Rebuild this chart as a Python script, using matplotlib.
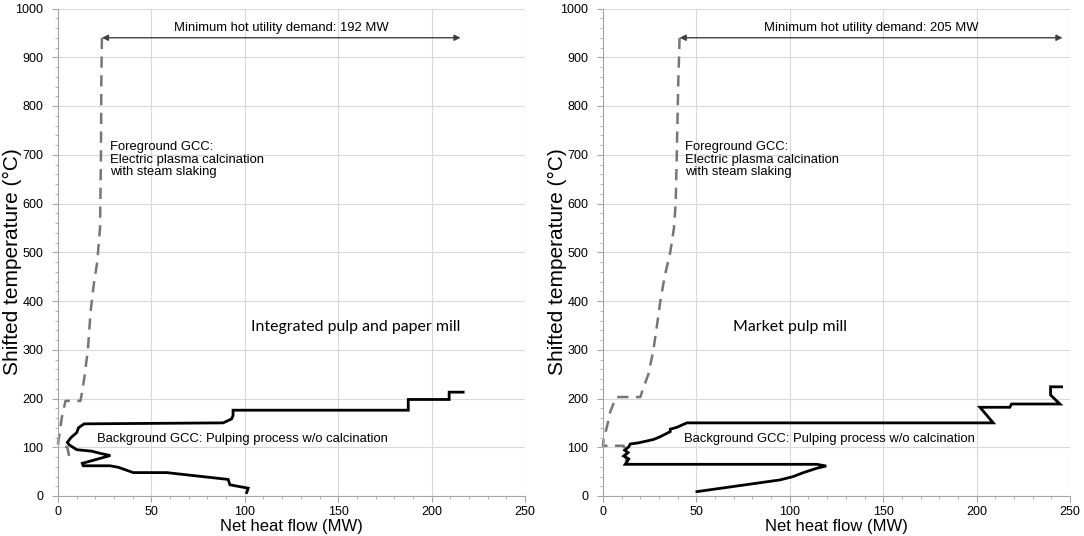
import matplotlib
matplotlib.use("Agg")
import matplotlib.pyplot as plt
from matplotlib.ticker import MultipleLocator

plt.rcParams['font.family'] = ['Liberation Sans', 'DejaVu Sans']

# --- integrated pulp and paper mill (left) ---
fg1_q = [23.5, 23.2, 23.0, 22.5, 21.0, 19.0, 17.5, 16.0, 14.0, 12.5, 12.0, 4.0, 2.0, 0.3, 0.0, 5.0, 6.0]
fg1_t = [940, 850, 700, 550, 480, 430, 380, 300, 240, 205, 195, 195, 160, 115, 105, 100, 80]
bg1_q = [101.0, 101.8, 92.0, 91.1, 58.1, 40.3, 32.2, 27.8, 13.5, 13.0, 28.0, 22.0, 18.0, 10.0, 6.0,
         5.0, 7.0, 10.0, 11.0, 14.0, 88.4, 92.9, 93.7, 93.7, 187.5, 187.5, 209.4, 209.4, 216.9]
bg1_t = [7, 16, 23, 34, 48, 48, 59, 62, 62, 67, 83, 88, 92, 95, 105,
         110, 120, 130, 140, 148, 150, 158, 165, 176, 176, 198, 198, 213, 213]

# --- market pulp mill (right) ---
fg2_q = [41.0, 40.3, 39.5, 38.9, 38.0, 36.0, 33.0, 30.7, 28.9, 27.0, 24.3, 21.0, 20.0, 7.0, 3.9, 2.1, 0.3, 0.0, 11.0, 12.0, 12.5]
fg2_t = [940, 850, 700, 600, 550, 500, 450, 400, 350, 300, 250, 215, 203, 203, 173, 142, 115, 103, 103, 95, 64]
bg2_q = [50.3, 94.8, 101.9, 107.3, 114.5, 119.5, 114.5, 11.9, 12.8, 13.8, 11.1, 13.4, 11.6, 13.8, 14.6,
         19.0, 27.1, 30.6, 36.0, 36.0, 39.6, 44.9, 208.9, 201.8, 217.8, 218.7, 244.6, 239.6, 239.6, 245.5]
bg2_t = [9, 33, 40, 48, 57, 61.5, 65, 65, 70, 76, 82, 89, 94, 101, 106.7,
         109, 116, 121.6, 132, 137, 141, 150, 150, 182, 182, 188.7, 188.7, 207, 224, 224]

panels = [
    dict(fg_q=fg1_q, fg_t=fg1_t, bg_q=bg1_q, bg_t=bg1_t, arrow=(23.5, 215.5), demand="Minimum hot utility demand: 192 MW",
         fg_x=27.8, bg_x=20.7, name="Integrated pulp and paper mill", name_x=159.5),
    dict(fg_q=fg2_q, fg_t=fg2_t, bg_q=bg2_q, bg_t=bg2_t, arrow=(41.0, 246.0), demand="Minimum hot utility demand: 205 MW",
         fg_x=44.0, bg_x=43.3, name="Market pulp mill", name_x=100),
]

fig = plt.figure(figsize=(10.84, 5.36), dpi=100)
W, H = 1084, 536
boxes = [(58, 525), (603, 1070)]
axes = [fig.add_axes([l / W, 1 - 496 / H, (r - l) / W, (496 - 8.5) / H]) for l, r in boxes]

for ax, p, (l, r) in zip(axes, panels, boxes):
    ax.set_xlim(0, 250)
    ax.set_ylim(0, 1000)
    ax.xaxis.set_major_locator(MultipleLocator(50))
    ax.xaxis.set_minor_locator(MultipleLocator(10))
    ax.yaxis.set_major_locator(MultipleLocator(100))
    ax.yaxis.set_minor_locator(MultipleLocator(20))
    ax.grid(True, which='major', color='#d9d9d9', linewidth=0.8)
    ax.set_axisbelow(True)
    for s in ['top', 'right']:
        ax.spines[s].set_visible(False)
    for s in ['left', 'bottom']:
        ax.spines[s].set_color('#a6a6a6')
    ax.tick_params(which='both', direction='out', color='#a6a6a6', labelsize=9)
    ax.tick_params(axis='y', pad=6.5)
    ax.tick_params(axis='x', pad=3)
    ax.tick_params(which='major', length=4)
    ax.tick_params(which='minor', length=2.5)

    ax.plot(p['fg_q'], p['fg_t'], color='#767676', linewidth=1.8, linestyle=(0, (4.5, 3)), clip_on=False)
    ax.plot(p['bg_q'], p['bg_t'], color='black', linewidth=2.0, solid_joinstyle='miter')

    a0, a1 = p['arrow']
    ax.annotate('', xy=(a1, 940), xytext=(a0, 940),
                arrowprops=dict(arrowstyle='<|-|>', color='#404040', lw=1.0,
                                mutation_scale=9, shrinkA=0, shrinkB=0))
    ax.text((a0 + a1) / 2, 960, p['demand'], ha='center', va='center', fontsize=9.4)
    ax.text(p['fg_x'], 729, "Foreground GCC:\nElectric plasma calcination\nwith steam slaking",
            ha='left', va='top', fontsize=9.4, linespacing=1.1)
    ax.text(p['bg_x'], 116, "Background GCC: Pulping process w/o calcination",
            ha='left', va='center', fontsize=9.4)
    ax.text(p['name_x'], 346, p['name'], ha='center', va='center', fontsize=11.4,
            family=['Lato', 'DejaVu Sans'])

    fig.text((l + r) / 2 / W, 1 - 527 / H, "Net heat flow (MW)", ha='center', va='center', fontsize=12)
    fig.text((l - 46) / W, 1 - 261.5 / H, "Shifted temperature (°C)", ha='center', va='center',
             rotation=90, fontsize=15)

fig.savefig("out.png", dpi=100)
